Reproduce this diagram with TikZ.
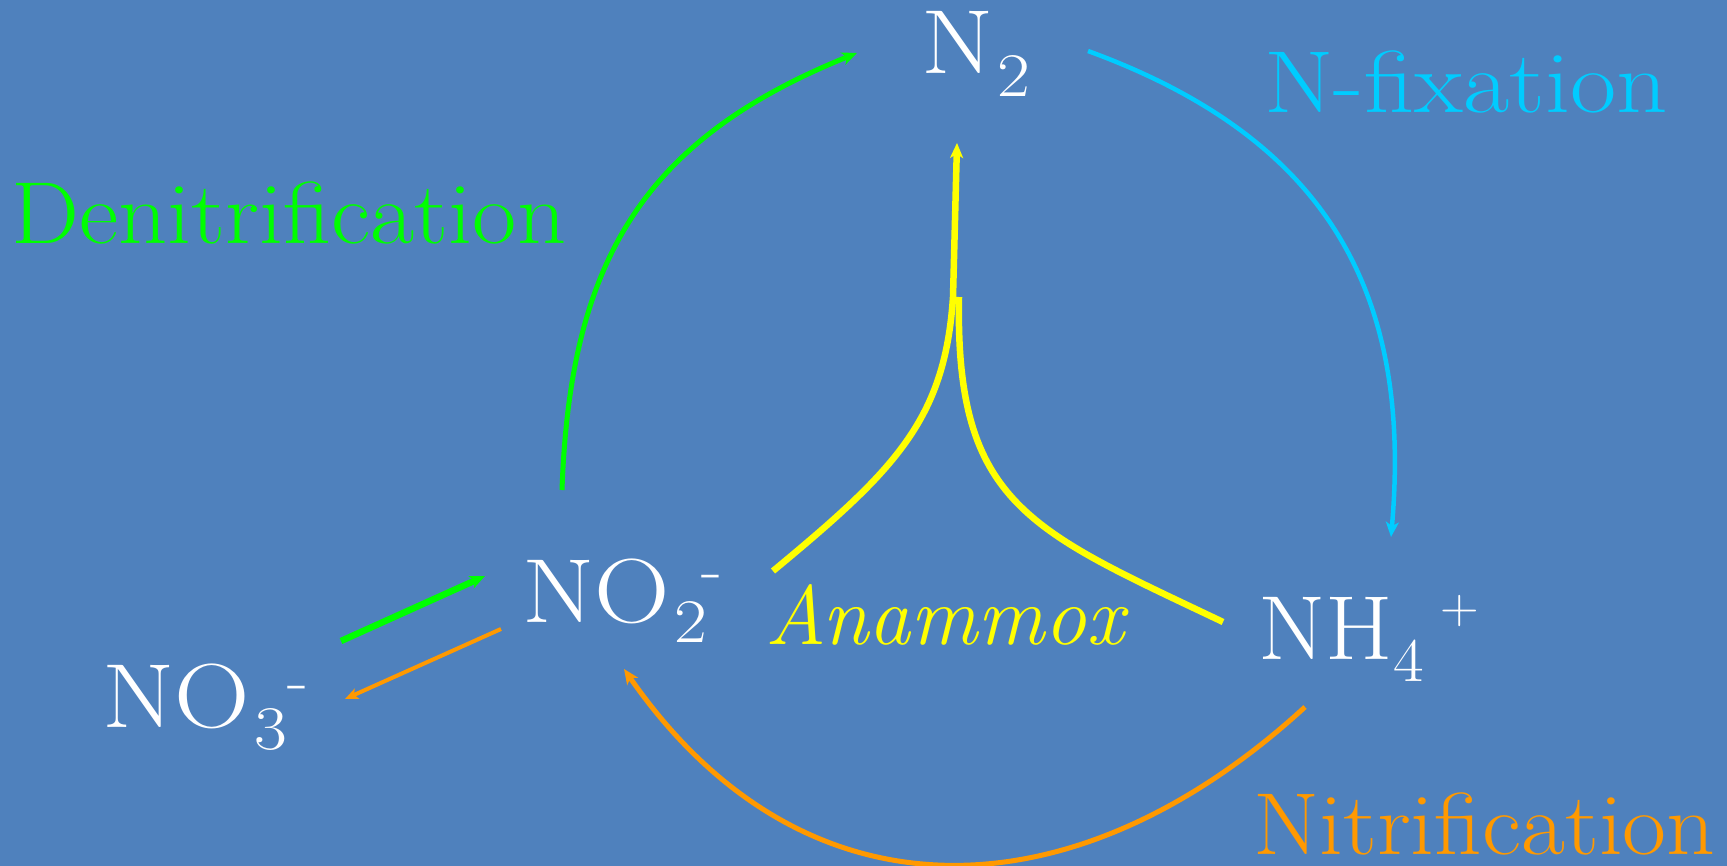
\documentclass[tikz,border=0pt]{standalone}
\usepackage{fontspec}
\usepackage{graphicx}
\usetikzlibrary{arrows.meta}
\definecolor{bgblue}{RGB}{79,129,189}
\definecolor{dgreen}{RGB}{0,255,0}
\definecolor{ncyan}{RGB}{0,204,255}
\definecolor{norange}{RGB}{255,153,0}
\definecolor{nyellow}{RGB}{255,255,0}
\newcommand{\subs}[2]{\raisebox{-#1pt}{\fontsize{62}{62}\selectfont #2}}
\newcommand{\sups}[3]{\raisebox{#1pt}{\fontsize{#2}{#2}\selectfont #3}}
\newcommand{\wide}[2]{\scalebox{#1}[1]{#2}}
\begin{document}
\begin{tikzpicture}[x=1pt,y=-1pt,
  chem/.style={text=white,inner sep=0pt,anchor=base west,font=\fontsize{91}{91}\selectfont},
  proc/.style={inner sep=0pt,anchor=base west,font=\fontsize{88}{88}\selectfont},
  tip/.style={-{Stealth[length=15pt,width=13pt,inset=4pt]}},
  smalltip/.style={-{Stealth[length=13pt,width=11pt,inset=3pt]}}]
\fill[bgblue] (0,0) rectangle (1727,866);
\useasboundingbox (0,0) rectangle (1727,866);

% labels
\node[chem] (n2) at (921,74) {\wide{1.15}{N\hspace{3pt}\subs{23}{2}}};
\node[chem] (no2) at (522,622) {\wide{1.15}{NO\hspace{4pt}\subs{20}{2}\hspace{-5pt}\sups{33}{60}{-}}};
\node[chem] (no3) at (102,727) {\wide{1.15}{NO\hspace{4pt}\subs{22}{3}\hspace{0pt}\sups{27}{60}{-}}};
\node[chem] (nh4) at (1258,659) {\wide{1.07}{NH\subs{22}{4}\hspace{16pt}\sups{36}{50}{+}}};
\node[proc,text=dgreen] (deni) at (11,244) {\wide{1.093}{Denitrification}};
\node[proc,text=ncyan] (nfix) at (1264,113) {\wide{1.143}{N-fixation}};
\node[proc,text=norange] (nitri) at (1253,854) {\wide{1.086}{Nitrification}};
\node[inner sep=0pt,anchor=base west,text=nyellow,font=\fontsize{84}{84}\selectfont\itshape] (anam) at (765,644) {Anammox};

% connector ends
\coordinate (gS) at (562,490);  \coordinate (gE) at (857,53);
\coordinate (cS) at (1088,51);  \coordinate (cE) at (1391,537);
\coordinate (oS) at (1305,707); \coordinate (oE) at (624,669);
\coordinate (sgS) at (341,641); \coordinate (sgE) at (485,576);
\coordinate (soS) at (501,629); \coordinate (soE) at (345,699);
\coordinate (yL) at (773,571);  \coordinate (yJ) at (953,297); \coordinate (yT) at (957,143);
\coordinate (yR) at (1223,622); \coordinate (yJ2) at (959,297);

% denitrification arc
\draw[dgreen,line width=5pt,tip] (gS) .. controls (570,260) and (644,139) .. (gE);
% N-fixation arc
\draw[ncyan,line width=4.5pt,tip] (cS) .. controls (1323,137) and (1413,288) .. (cE);
% nitrification arc
\draw[norange,line width=5pt,tip] (oS) .. controls (1074,919) and (803,927) .. (oE);
% NO3 <-> NO2
\draw[dgreen,line width=6.5pt,tip] (sgS) -- (sgE);
\draw[norange,line width=4pt,smalltip] (soS) -- (soE);
% anammox
\draw[nyellow,line width=6.5pt] (yR) .. controls (1030,530) and (955,505) .. (yJ2);
\draw[nyellow,line width=6.5pt,tip] (yL) .. controls (895,470) and (945,420) .. (yJ) -- (yT);
\end{tikzpicture}
\end{document}
